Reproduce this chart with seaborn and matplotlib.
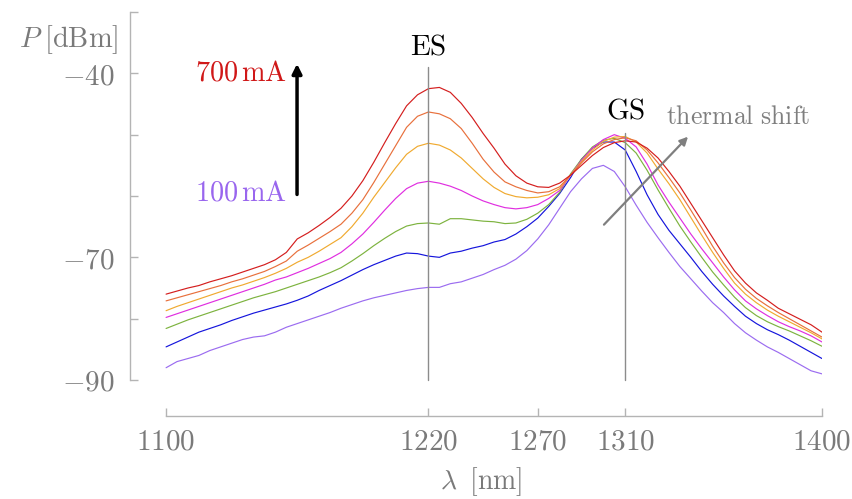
import numpy as np
import pandas as pd
import matplotlib
matplotlib.use("Agg")
import matplotlib.pyplot as plt
import seaborn as sns

# Sampling grid of the optical spectrum analyser trace [nm]
wavelength = np.arange(1100, 1405, 5)

# Output power spectra [dBm] for each pump current
p_700 = [-76.0, -75.5, -75.0, -74.6, -74.0, -73.5, -73.0, -72.4, -71.8, -71.2,
         -70.4, -69.2, -67.0, -66.0, -64.8, -63.5, -62.0, -60.0, -57.5, -54.5,
         -51.3, -48.2, -45.3, -43.5, -42.5, -42.3, -43.1, -44.9, -47.2, -49.8,
         -52.2, -54.8, -56.7, -57.9, -58.5, -58.6, -57.9, -56.6, -55.0, -53.4,
         -52.1, -51.3, -51.0, -51.2, -52.2, -53.8, -56.0, -58.4, -61.2, -64.0,
         -66.8, -69.6, -72.2, -74.2, -75.8, -77.0, -78.3, -79.2, -80.1, -81.0,
         -82.2]
p_600 = [-77.1, -76.6, -76.1, -75.6, -75.1, -74.6, -74.0, -73.5, -72.9, -72.3,
         -71.5, -70.6, -69.0, -68.0, -66.9, -65.8, -64.6, -62.8, -60.6, -57.8,
         -54.8, -51.8, -48.8, -47.0, -46.3, -46.6, -47.4, -49.0, -51.4, -54.0,
         -56.1, -57.7, -58.5, -59.1, -59.5, -59.3, -58.5, -56.6, -54.6, -52.8,
         -51.5, -50.8, -50.5, -51.0, -52.5, -54.6, -57.0, -59.5, -62.3, -65.2,
         -68.2, -70.9, -73.3, -75.2, -76.7, -77.9, -79.0, -80.0, -81.0, -82.0,
         -83.0]
p_500 = [-78.7, -78.0, -77.4, -76.8, -76.2, -75.6, -75.0, -74.5, -73.9, -73.3,
         -72.6, -71.8, -70.8, -70.0, -69.0, -67.9, -66.8, -65.0, -62.8, -60.2,
         -57.8, -55.4, -53.2, -51.9, -51.4, -51.7, -52.5, -53.8, -55.5, -57.2,
         -58.6, -59.6, -60.1, -60.3, -60.2, -59.8, -58.8, -56.6, -54.4, -52.5,
         -51.1, -50.4, -50.3, -51.2, -53.0, -55.6, -58.0, -60.6, -63.5, -66.4,
         -69.2, -71.8, -74.2, -76.0, -77.4, -78.6, -79.6, -80.5, -81.4, -82.3,
         -83.3]
p_400 = [-79.8, -79.2, -78.6, -78.0, -77.4, -76.8, -76.2, -75.6, -75.0, -74.4,
         -73.7, -73.2, -72.5, -71.8, -71.0, -70.2, -69.2, -67.8, -66.2, -64.3,
         -62.3, -60.4, -58.8, -57.9, -57.6, -57.9, -58.4, -59.1, -60.0, -60.8,
         -61.4, -61.9, -62.1, -61.9, -61.4, -60.4, -59.1, -56.6, -54.2, -52.2,
         -50.8, -50.0, -50.6, -52.0, -54.8, -58.2, -61.0, -63.6, -66.2, -68.6,
         -70.9, -73.2, -75.3, -77.1, -78.4, -79.5, -80.5, -81.3, -82.0, -82.8,
         -83.8]
p_300 = [-81.6, -80.9, -80.2, -79.6, -79.0, -78.4, -77.8, -77.2, -76.6, -76.1,
         -75.6, -75.0, -74.4, -73.8, -73.2, -72.5, -71.7, -70.6, -69.4, -68.1,
         -66.9, -65.8, -64.9, -64.5, -64.4, -64.6, -63.7, -63.7, -63.9, -64.1,
         -64.2, -64.5, -64.4, -63.8, -62.8, -61.4, -59.4, -56.4, -54.0, -52.0,
         -50.9, -50.6, -51.3, -53.0, -55.8, -59.0, -62.0, -64.9, -67.5, -70.0,
         -72.4, -74.5, -76.5, -78.2, -79.5, -80.5, -81.3, -82.0, -82.8, -83.6,
         -84.5]
p_200 = [-84.6, -83.8, -83.0, -82.2, -81.6, -81.0, -80.3, -79.7, -79.1, -78.6,
         -78.1, -77.6, -77.0, -76.3, -75.4, -74.6, -73.8, -72.9, -72.0, -71.2,
         -70.5, -69.8, -69.3, -69.4, -69.8, -70.0, -69.3, -69.0, -68.5, -68.1,
         -67.5, -67.1, -66.2, -65.0, -63.6, -61.7, -59.6, -57.0, -54.0, -52.2,
         -51.2, -51.2, -52.5, -56.0, -59.8, -63.0, -65.6, -67.8, -70.0, -72.3,
         -74.4, -76.3, -78.0, -79.6, -80.8, -81.8, -82.6, -83.5, -84.5, -85.5,
         -86.5]
p_100 = [-88.0, -87.0, -86.5, -86.0, -85.2, -84.6, -84.0, -83.4, -83.0, -82.8,
         -82.2, -81.4, -80.8, -80.2, -79.6, -79.0, -78.3, -77.7, -77.1, -76.6,
         -76.2, -75.8, -75.4, -75.1, -74.9, -74.9, -74.3, -74.0, -73.4, -72.8,
         -72.0, -71.3, -70.3, -68.9, -67.0, -64.7, -62.0, -59.3, -57.2, -55.5,
         -55.0, -56.0, -58.5, -61.5, -64.3, -66.8, -69.2, -71.5, -73.5, -75.5,
         -77.4, -79.0, -80.8, -82.3, -83.5, -84.6, -85.5, -86.5, -87.5, -88.5,
         -89.0]

currents = ["100 mA", "200 mA", "300 mA", "400 mA", "500 mA", "600 mA", "700 mA"]
spectra = [p_100, p_200, p_300, p_400, p_500, p_600, p_700]
line_colors = ["#9b6cf0", "#1515dc", "#7db33f", "#e02ee0", "#f0aa30", "#e8703c", "#d41e1e"]

x_ticks = [1100, 1220, 1270, 1310, 1400]
y_ticks = [-90, -80, -70, -60, -50, -40, -30]
y_labeled = [-90, -70, -40]

es_peak = 1220
gs_peak = 1310

df = pd.concat(
    [pd.DataFrame({"wavelength": wavelength, "power": p, "current": c})
     for c, p in zip(currents, spectra)],
    ignore_index=True,
)

sns.set_theme(style="white")
plt.rcParams["mathtext.fontset"] = "cm"
plt.rcParams["font.family"] = ["DejaVu Serif"]

axis_grey = "#b4b4b4"
label_grey = "#7a7a7a"

fig = plt.figure(figsize=(8.52, 4.99), dpi=100)
ax = fig.add_axes([130 / 852, 83 / 499, 692 / 852, 404 / 499])

sns.lineplot(
    data=df, x="wavelength", y="power", hue="current",
    hue_order=currents, palette=dict(zip(currents, line_colors)),
    estimator=None, sort=False, legend=False, linewidth=0.85, ax=ax,
)

ax.set_xlim(1083.5, 1400)
ax.set_ylim(-95.87, -30)

# detached pgfplots-like axes
for side in ("top", "right"):
    ax.spines[side].set_visible(False)
for side in ("left", "bottom"):
    ax.spines[side].set_color(axis_grey)
    ax.spines[side].set_linewidth(1.0)
ax.spines["left"].set_bounds(-90, -30)
ax.spines["bottom"].set_bounds(1100, 1400)

ax.set_xticks(x_ticks)
ax.set_xticklabels([f"${t}$" for t in x_ticks])
ax.set_yticks(y_ticks)
ax.set_yticklabels([f"${t}$" if t in y_labeled else "" for t in y_ticks])
ax.tick_params(axis="both", direction="in", length=6, width=1.0,
               color=axis_grey, labelcolor=label_grey, labelsize=21,
               bottom=True, left=True)
ax.tick_params(axis="x", pad=8)
ax.tick_params(axis="y", pad=11)
ax.set_xlabel("")
ax.set_ylabel("")

fig.text(118 / 852, 1 - 40 / 499, r"$P\;[\mathrm{dBm}]$", ha="right", va="center",
         fontsize=20.5, color=label_grey)
fig.text(481 / 852, 1 - 482 / 499, r"$\lambda\;\;[\mathrm{nm}]$", ha="center", va="center",
         fontsize=20, color=label_grey)

# ES and GS markers
ax.plot([es_peak, es_peak], [-90, -39.0], color="#8c8c8c", lw=1.0)
ax.plot([gs_peak, gs_peak], [-90, -49.7], color="#8c8c8c", lw=1.0)
ax.text(es_peak, -35.7, r"$\mathrm{ES}$", ha="center", va="center", fontsize=21, color="black")
ax.text(gs_peak, -46.0, r"$\mathrm{GS}$", ha="center", va="center", fontsize=21, color="black")

# pump current arrow
ax.annotate("", xy=(1159.9, -38.0), xytext=(1159.9, -60.2),
            arrowprops=dict(arrowstyle="-|>", color="black", lw=2.5, mutation_scale=14))
ax.text(1155.3, -39.9, r"$\mathrm{700\,mA}$", ha="right", va="center", fontsize=20.3, color="#d01818")
ax.text(1155.3, -59.5, r"$\mathrm{100\,mA}$", ha="right", va="center", fontsize=20.3, color="#9966ee")

# thermal red-shift of the ground state
ax.annotate("", xy=(1339.6, -50.0), xytext=(1299.4, -65.0),
            arrowprops=dict(arrowstyle="-|>", color="#7f7f7f", lw=1.6, mutation_scale=12))
ax.text(1361.5, -47.0, r"$\mathrm{thermal\ shift}$", ha="center", va="center",
        fontsize=18.5, color="#7f7f7f")

fig.savefig("out.png", dpi=100)
